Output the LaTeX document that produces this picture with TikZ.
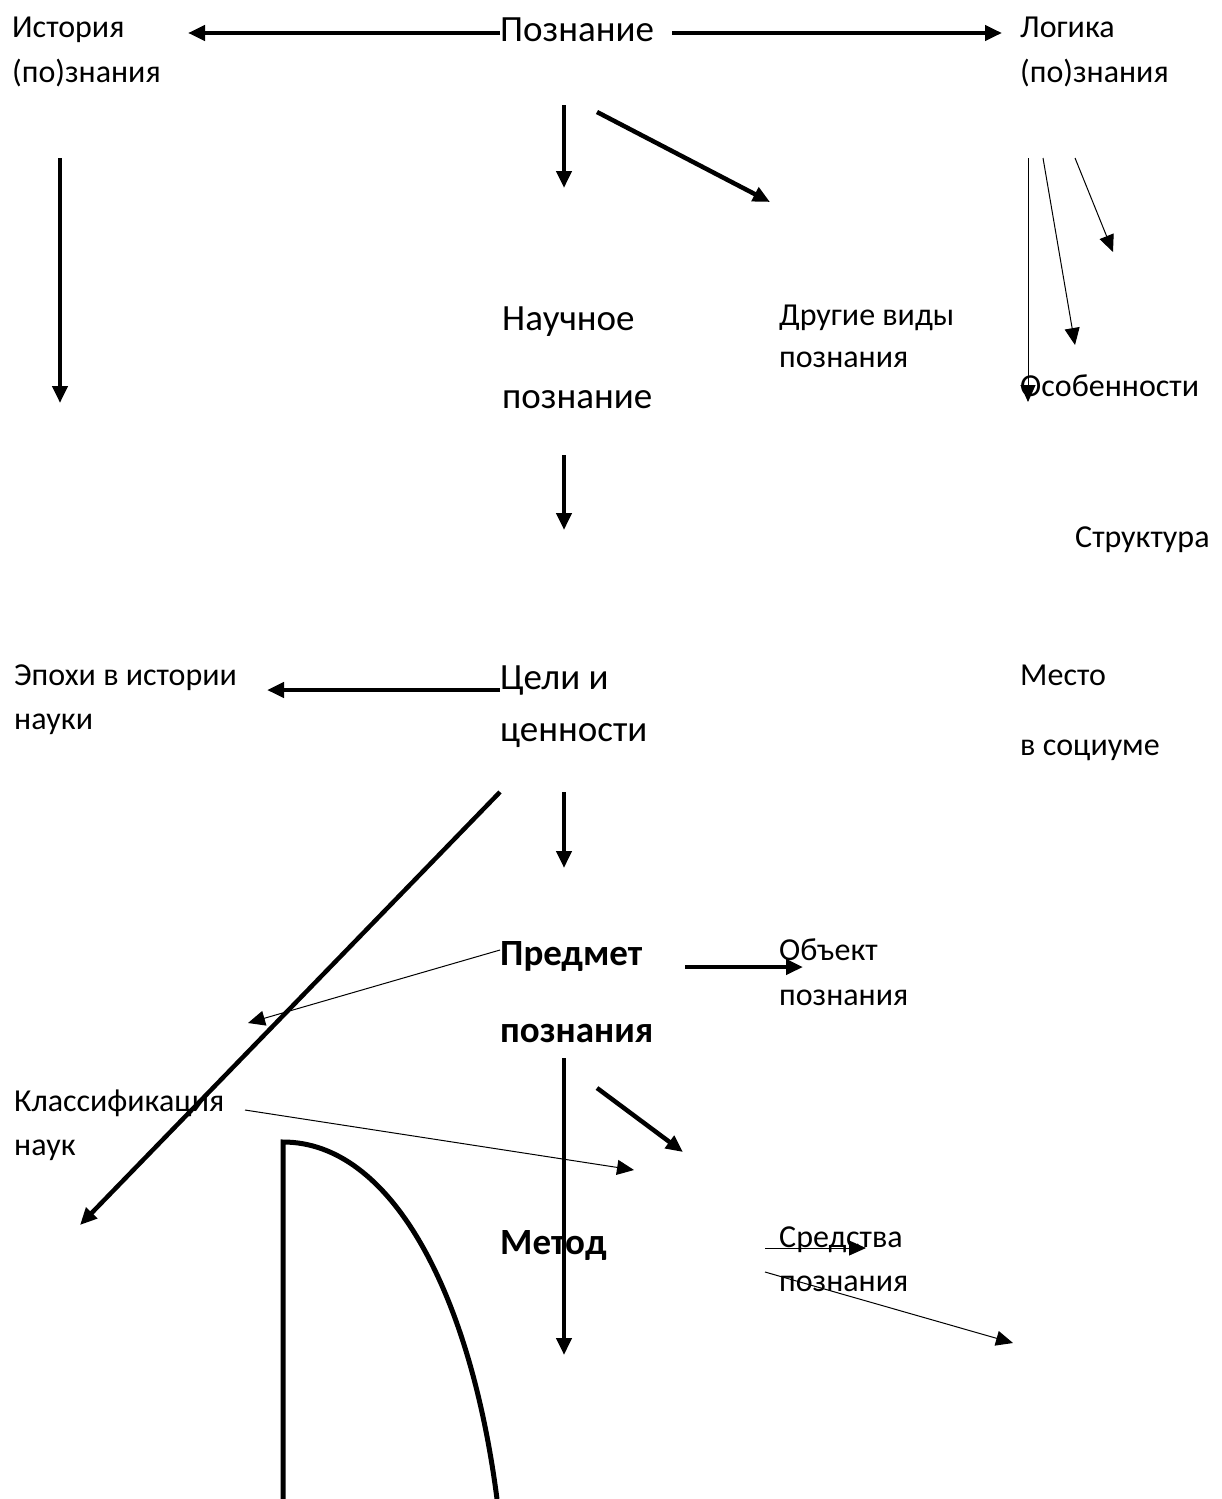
\documentclass[tikz,border=0pt]{standalone}
\usepackage{fontspec}
\setmainfont{Carlito}
\usetikzlibrary{arrows.meta}

\begin{document}
\begin{tikzpicture}[
  x=1pt, y=-1pt,
  >={Triangle[length=17pt,width=15pt]},
  lbl/.style={
     anchor=base west,
     inner sep=0pt,
     align=left,
     font=\fontsize{32}{45}\selectfont
  },
  wide/.style={
     lbl,
     font=\fontsize{32}{70}\selectfont
  },
  big/.style={
     lbl,
     font=\fontsize{37}{78}\selectfont
  },
  bld/.style={
     lbl,
     font=\bfseries\fontsize{37}{77}\selectfont
  },
  arr/.style={->, line width=4.5pt},
  tarr/.style={->, line width=1pt}
]
\useasboundingbox (0,0) rectangle (1221,1499);

% top row (base anchor = last line)
\node[lbl] (hist)  at (12,82)   {История\\(по)знания};
\node[big, font=\fontsize{37}{40}\selectfont] (pozn) at (500,41) {Познание};
\node[lbl] (logic) at (1020,82) {Логика\\(по)знания};

% middle column
\node[big] (sci)   at (502,408)  {Научное\\познание};
\node[lbl, font=\fontsize{32}{42}\selectfont] (other) at (779,367) {Другие виды\\познания};
\node[lbl] (feat)  at (1020,396) {Особенности};
\node[lbl] (struct) at (1075,547) {Структура};

\node[lbl, font=\fontsize{32}{44}\selectfont] (epoch) at (14,729) {Эпохи в истории\\науки};
\node[big, font=\fontsize{37}{52}\selectfont] (goal) at (500,741) {Цели и\\ценности};
\node[wide] (place) at (1020,755) {Место\\в социуме};

\node[bld] (subj)  at (500,1042) {Предмет\\познания};
\node[lbl] (obj)   at (779,1005) {Объект\\познания};
\node[lbl, font=\fontsize{32}{44}\selectfont] (class) at (14,1155) {Классификация\\наук};
\node[bld] (meth)  at (500,1254) {Метод};
\node[lbl, font=\fontsize{32}{44}\selectfont] (means) at (779,1291) {Средства\\познания};

% free ends of the connectors
\coordinate (histEnd)  at (188,33);
\coordinate (logStart) at (672,33);
\coordinate (logEnd)   at (1002,33);
\coordinate (histTop)  at (60,158);
\coordinate (histBot)  at (60,403);
\coordinate (sciTop)   at (564,105);
\coordinate (sciEnd)   at (564,188);
\coordinate (othTop)   at (597,112);
\coordinate (othEnd)   at (770,202);
\coordinate (logA)     at (1028,158);
\coordinate (logAEnd)  at (1028,402);
\coordinate (logB)     at (1043,158);
\coordinate (logBEnd)  at (1075,345);
\coordinate (logC)     at (1075,158);
\coordinate (logCEnd)  at (1113,252);
\coordinate (goalTop)  at (564,455);
\coordinate (goalEnd)  at (564,530);
\coordinate (epochEnd) at (267,690);
\coordinate (diagTop)  at (500,792);
\coordinate (diagEnd)  at (80,1225);
\coordinate (subjTop)  at (564,792);
\coordinate (subjEnd)  at (564,868);
\coordinate (subjOut)  at (500,950);
\coordinate (subjLeft) at (248,1023);
\coordinate (objTop)   at (685,967);
\coordinate (objEnd)   at (803,967);
\coordinate (methTop)  at (564,1058);
\coordinate (methEnd)  at (564,1355);
\coordinate (slantTop) at (597,1088);
\coordinate (slantEnd) at (683,1152);
\coordinate (classOut) at (245,1110);
\coordinate (classEnd) at (634,1170);
\coordinate (meanA)    at (765,1248);
\coordinate (meanAEnd) at (866,1248);
\coordinate (meanB)    at (765,1272);
\coordinate (meanBEnd) at (1013,1343);
\coordinate (arcLow)   at (283,1499);
\coordinate (arcTop)   at (283,1142);
\coordinate (arcEnd)   at (497,1499);

\draw[arr] (pozn.west |- histEnd) -- (histEnd);
\draw[arr] (logStart) -- (logEnd);
\draw[arr] (histTop) -- (histBot);
\draw[arr] (sciTop) -- (sciEnd);
\draw[arr] (othTop) -- (othEnd);

\draw[tarr] (logA) -- (logAEnd);
\draw[tarr] (logB) -- (logBEnd);
\draw[tarr] (logC) -- (logCEnd);

\draw[arr] (goalTop) -- (goalEnd);
\draw[arr] (goal.west |- epochEnd) -- (epochEnd);
\draw[arr] (diagTop) -- (diagEnd);
\draw[arr] (subjTop) -- (subjEnd);

\draw[tarr] (subjOut) -- (subjLeft);
\draw[arr] (objTop) -- (objEnd);
\draw[arr] (methTop) -- (methEnd);
\draw[arr] (slantTop) -- (slantEnd);
\draw[tarr] (classOut) -- (classEnd);
\draw[tarr] (meanA) -- (meanAEnd);
\draw[tarr] (meanB) -- (meanBEnd);

\draw[line width=5pt] (arcLow) -- (arcTop)
   .. controls (390,1142) and (470,1290) .. (arcEnd);

\end{tikzpicture}
\end{document}
